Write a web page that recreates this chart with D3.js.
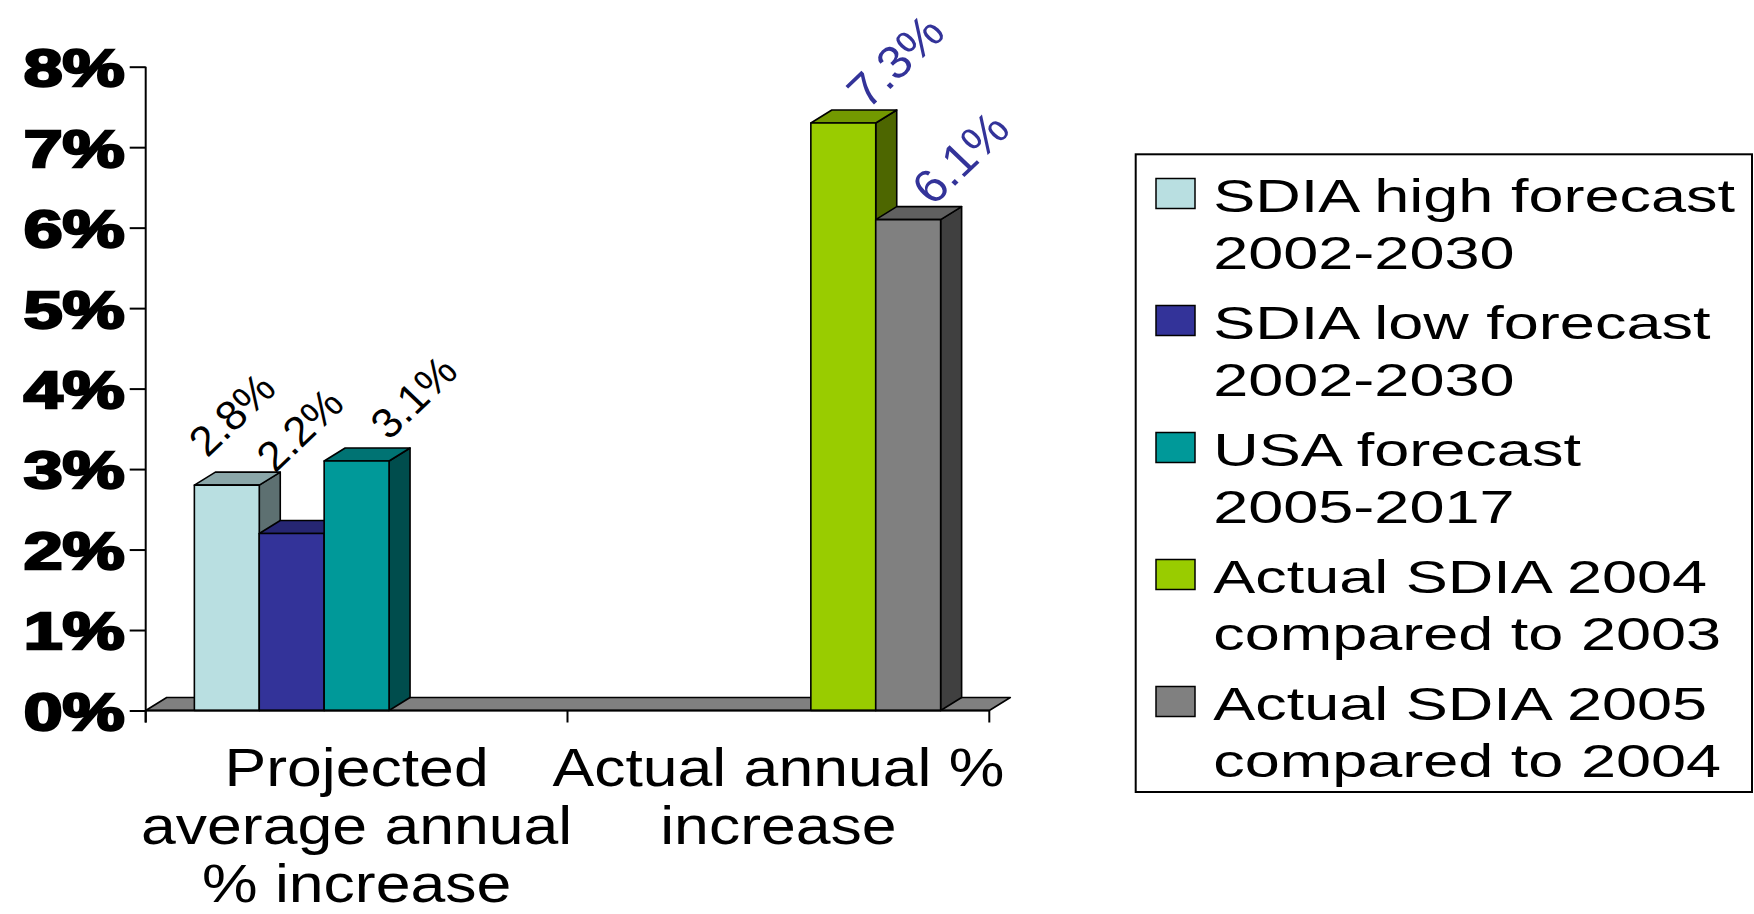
<!DOCTYPE html>
<html>
<head>
<meta charset="utf-8">
<script src="https://cdn.jsdelivr.net/npm/d3@7"></script>
<style>
  html, body { margin: 0; padding: 0; background: #fff; overflow: hidden; }
</style>
</head>
<body>
<svg id="chart" width="1754" height="914"></svg>
<script>
// ---- data ----
const categories = ["Projected average annual % increase", "Actual annual % increase"];
const categoryLines = [["Projected", "average annual", "% increase"], ["Actual annual %", "increase"]];

const seriesNames = [
  "SDIA high forecast 2002-2030",
  "SDIA low forecast 2002-2030",
  "USA forecast 2005-2017",
  "Actual SDIA 2004 compared to 2003",
  "Actual SDIA 2005 compared to 2004"
];
const legendLines = [
  ["SDIA high forecast", "2002-2030"],
  ["SDIA low forecast", "2002-2030"],
  ["USA forecast", "2005-2017"],
  ["Actual SDIA 2004", "compared to 2003"],
  ["Actual SDIA 2005", "compared to 2004"]
];

// percent values per series, one entry per category (null = no bar)
const highForecast = [2.8, null];
const lowForecast  = [2.2, null];
const usaForecast  = [3.1, null];
const actual2004   = [null, 7.3];
const actual2005   = [null, 6.1];
const seriesValues = [highForecast, lowForecast, usaForecast, actual2004, actual2005];

const yTicks = [0, 1, 2, 3, 4, 5, 6, 7, 8];

// ---- styles ----
const seriesColors = ["#B9DFE1", "#333399", "#009999", "#99CC00", "#808080"];
const FONT = "'Liberation Sans', Arial, Helvetica, sans-serif";

// ---- layout ----
const svg = d3.select("#chart");
const plot = { left: 145.7, right: 989.3, top: 66.7, bottom: 710.5 };
const depth = { dx: 21, dy: 13 };

const y = d3.scaleLinear().domain([0, 8]).range([plot.bottom, plot.top]);
const x0 = d3.scaleBand().domain(categories).range([plot.left, plot.right]);
const x1 = d3.scaleBand().domain(seriesNames).range([0, x0.bandwidth()]).paddingOuter(0.75);

const shade = (c, k) => { const r = d3.rgb(c); return d3.rgb(r.r * k, r.g * k, r.b * k).formatHex(); };

// ---- floor ----
svg.append("path")
  .attr("d", d3.line()([
    [plot.left, y(0)], [plot.right, y(0)],
    [plot.right + depth.dx, y(0) - depth.dy], [plot.left + depth.dx, y(0) - depth.dy]
  ]) + "Z")
  .attr("fill", "#808080")
  .attr("stroke", "#000")
  .attr("stroke-width", 1.6)
  .attr("stroke-linejoin", "round");

// ---- bars (drawn left to right so each front hides the previous side) ----
const bars = [];
categories.forEach((cat, ci) => {
  seriesNames.forEach((s, si) => {
    const v = seriesValues[si][ci];
    if (v !== null && v !== undefined) bars.push({ cat, ci, s, si, v });
  });
});

const barG = svg.append("g")
  .attr("stroke", "#000")
  .attr("stroke-width", 1.6)
  .attr("stroke-linejoin", "round");

bars.forEach(b => {
  const xl = x0(b.cat) + x1(b.s);
  const w = x1.bandwidth();
  const top = y(b.v), base = y(0);
  const c = seriesColors[b.si];
  const g = barG.append("g");
  // side face
  g.append("path")
    .attr("d", d3.line()([[xl + w, top], [xl + w + depth.dx, top - depth.dy],
      [xl + w + depth.dx, base - depth.dy], [xl + w, base]]) + "Z")
    .attr("fill", shade(c, 0.5));
  // top face
  g.append("path")
    .attr("d", d3.line()([[xl, top], [xl + w, top],
      [xl + w + depth.dx, top - depth.dy], [xl + depth.dx, top - depth.dy]]) + "Z")
    .attr("fill", shade(c, 0.75));
  // front face
  g.append("rect")
    .attr("x", xl).attr("y", top)
    .attr("width", w).attr("height", base - top)
    .attr("fill", c);
});

// ---- value axis ----
const yAxis = d3.axisLeft(y)
  .tickValues(yTicks)
  .tickFormat(d => d + "%")
  .tickSize(16)
  .tickSizeOuter(0);

const yg = svg.append("g")
  .attr("transform", `translate(${plot.left},0)`)
  .call(yAxis);
yg.select(".domain").remove();
yg.selectAll(".tick line").attr("stroke", "#000").attr("stroke-width", 2);
yg.selectAll(".tick text")
  .attr("x", null)
  .attr("dy", "0.37em")
  .attr("transform", "translate(-21,0) scale(1.37,1)")
  .attr("text-anchor", "end")
  .attr("fill", "#000")
  .attr("stroke", "#000")
  .attr("stroke-width", 2.4)
  .style("font-family", FONT)
  .style("font-weight", "bold")
  .style("font-size", "51px");

svg.append("line")
  .attr("x1", plot.left).attr("x2", plot.left)
  .attr("y1", plot.top).attr("y2", plot.bottom + 12)
  .attr("stroke", "#000").attr("stroke-width", 2);

// ---- category axis ----
svg.append("line")
  .attr("x1", plot.left).attr("x2", plot.right)
  .attr("y1", y(0)).attr("y2", y(0))
  .attr("stroke", "#000").attr("stroke-width", 2);

const catEdges = categories.map(c => x0(c)).concat([x0(categories[categories.length - 1]) + x0.bandwidth()]);
svg.append("g").selectAll("line").data(catEdges).join("line")
  .attr("x1", d => d).attr("x2", d => d)
  .attr("y1", y(0)).attr("y2", y(0) + 12)
  .attr("stroke", "#000").attr("stroke-width", 2);

const catLabelG = svg.append("g")
  .style("font-family", FONT)
  .style("font-size", "53px")
  .attr("fill", "#000");
categories.forEach((cat, ci) => {
  const cx = x0(cat) + x0.bandwidth() / 2;
  categoryLines[ci].forEach((line, li) => {
    catLabelG.append("text")
      .attr("text-anchor", "middle")
      .attr("transform", `translate(${cx},${plot.bottom + 75 + li * 58}) scale(1.18,1)`)
      .text(line);
  });
});

// ---- data labels ----
const labelStyle = [
  { color: "#000000", size: 42 },
  { color: "#333399", size: 47 }
];
const labelOffset = [52, -62];
const labelNudge = { "0-0": [-47, -9], "0-1": [-44, -42], "0-2": [5, -2] };

const labelG = svg.append("g").style("font-family", FONT);
bars.forEach(b => {
  const xl = x0(b.cat) + x1(b.s);
  const cx = xl + x1.bandwidth() / 2;
  const nudge = labelNudge[b.ci + "-" + b.si] || [0, 0];
  const px = cx + labelOffset[0] + nudge[0];
  const py = y(b.v) + labelOffset[1] + nudge[1];
  const st = labelStyle[b.ci];
  labelG.append("text")
    .attr("text-anchor", "middle")
    .attr("dy", "0.35em")
    .attr("transform", `translate(${px},${py}) scale(1.05,1) rotate(-45)`)
    .attr("fill", st.color)
    .style("font-size", st.size + "px")
    .text(d3.format(".1f")(b.v) + "%");
});

// ---- legend ----
const legend = { x: 1135.7, y: 154.3, w: 616.3, h: 637.7 };
const legG = svg.append("g");
legG.append("rect")
  .attr("x", legend.x).attr("y", legend.y)
  .attr("width", legend.w).attr("height", legend.h)
  .attr("fill", "#fff").attr("stroke", "#000").attr("stroke-width", 2);

seriesNames.forEach((s, i) => {
  const base = legend.y + 57.2 + i * 127;
  legG.append("rect")
    .attr("x", legend.x + 20.3).attr("y", base - 33)
    .attr("width", 39).attr("height", 30)
    .attr("fill", seriesColors[i])
    .attr("stroke", "#000").attr("stroke-width", 1.5);
  legendLines[i].forEach((line, li) => {
    legG.append("text")
      .attr("transform", `translate(${legend.x + 77.5},${base + li * 57}) scale(1.37,1)`)
      .style("font-family", FONT)
      .style("font-size", "46px")
      .attr("fill", "#000")
      .text(line);
  });
});
</script>
</body>
</html>
